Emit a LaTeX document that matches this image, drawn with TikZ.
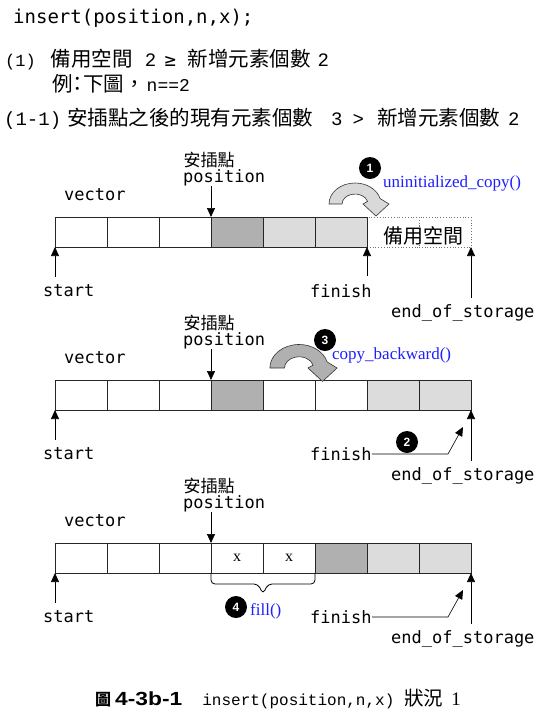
\documentclass[tikz,border=0pt]{standalone}
\usepackage{fontspec}
\setmainfont{Liberation Serif}
\setmonofont{DejaVu Sans Mono}
\newfontfamily\cjk{Noto Sans CJK TC}
\newfontfamily\cour{Liberation Mono}
\newfontfamily\numfont{Liberation Sans}
\newfontfamily\capsans[FakeStretch=1.2]{Liberation Sans}
\usetikzlibrary{arrows.meta,positioning}

\newcommand{\zhtxt}[1]{{\cjk\fontsize{20.5}{20.5}\selectfont #1}}

\definecolor{darkcell}{HTML}{B0B0B0}
\definecolor{lightcell}{HTML}{DCDCDC}
\definecolor{fnblue}{HTML}{1E1EFF}

\tikzset{
  cell/.style={draw=black!85, line width=0.8pt, minimum width=52pt, minimum height=30pt, inner sep=0pt, outer sep=0pt},
  spare/.style={cell, draw=black!55, dotted, line width=0.6pt},
  ptr/.style={draw=black, line width=0.7pt, -{Triangle[length=9pt,width=8pt]}},
  lbl/.style={anchor=west, inner sep=0pt, font=\ttfamily\fontsize{17}{17}\selectfont},
  cjklbl/.style={inner sep=0pt, font=\cjk\fontsize{17}{17}\selectfont},
  num/.style={circle, fill=black, text=white, minimum size=22pt, inner sep=0pt, font=\numfont\bfseries\fontsize{12}{12}\selectfont},
  fn/.style={anchor=west, inner sep=0pt, text=fnblue, font=\fontsize{17}{17}\selectfont},
  bendarrow/.style={draw=black!80, line width=0.6pt}
}

\begin{document}
\begin{tikzpicture}[x=1pt, y=-1pt]

  \useasboundingbox (0,0) rectangle (555,724);

  % heading lines
  \node[anchor=west, inner sep=0pt, font=\ttfamily\fontsize{19}{19}\selectfont] (call) at (13,18) {insert(position,n,x);};
  \node[anchor=base west, inner sep=0pt, font=\cour\fontsize{19}{19}\selectfont] (cond) at (5,66)
    {{\fontsize{17}{17}\selectfont (1)}\hspace{15pt}\zhtxt{備用空間}\hspace{12pt}2\hspace{8.5pt}{\ttfamily ≥}\hspace{11.5pt}\zhtxt{新增元素個數}\hspace{7pt}2};
  \node[anchor=base west, inner sep=0pt, font=\cour\fontsize{18}{18}\selectfont] (examp) at (52,91)
    {\zhtxt{例}\hspace{-5pt}\zhtxt{：}\hspace{-5pt}\zhtxt{下圖，}\hspace{2pt}n==2};
  \node[anchor=base west, inner sep=0pt, font=\cour\fontsize{19}{19}\selectfont] (case) at (4,125)
    {(1-1)\hspace{6pt}\zhtxt{安插點之後的現有元素個數}\hspace{18pt}3\hspace{10pt}>\hspace{13pt}\zhtxt{新增元素個數}\hspace{8pt}2};

  % row A: spare room still empty
  \foreach \i in {7,8}
    \node[spare] (A\i) at ({81+52*(\i-1)},232) {};
  \foreach \i/\c in {1/white,2/white,3/white,4/darkcell,5/lightcell,6/lightcell}
    \node[cell, fill=\c] (A\i) at ({81+52*(\i-1)},232) {};
  \node[inner sep=0pt, xshift=4pt, yshift=-4pt, font=\cjk\fontsize{20}{20}\selectfont] (spareTxt) at (A7.east) {備用空間};

  % row B: after the move
  \foreach \i/\c in {1/white,2/white,3/white,4/darkcell,5/white,6/white,7/lightcell,8/lightcell}
    \node[cell, fill=\c] (B\i) at ({81+52*(\i-1)},395) {};

  % row C: after the fill
  \foreach \i/\c/\v in {1/white/,2/white/,3/white/,4/white/x,5/white/x,6/darkcell/,7/lightcell/,8/lightcell/}
    \node[cell, fill=\c, font=\fontsize{16}{16}\selectfont] (C\i) at ({81+52*(\i-1)},558) {\v};

  % labels and pointers of each row
  \foreach \rw/\ry in {A/217,B/380,C/543} {
    \node[cjklbl] (ins\rw) at (209,\ry-57) {安插點};
    \node[lbl] (pos\rw) at (183,\ry-39) {position};
    \node[lbl] (vec\rw) at (64,\ry-22) {vector};
    \node[lbl] (st\rw) at (43,\ry+74) {start};
    \node[lbl] (fin\rw) at (310,\ry+74) {finish};
    \node[lbl] (eos\rw) at (391,\ry+96) {end\_of\_storage};
    \draw[ptr] (\rw4.north west |- pos\rw.south) -- (\rw4.north west);
    \draw[ptr, shorten <=8pt] (\rw1.south west |- st\rw.north) -- (\rw1.south west);
    \draw[ptr, shorten <=6.5pt] (\rw8.south east |- eos\rw.north) -- (\rw8.south east);
  }
  \draw[ptr, shorten <=8pt] (A6.south east |- finA.north) -- (A6.south east);

  % finish moves on
  \coordinate (bendB) at (448,454);
  \coordinate (tipB) at (463,427);
  \coordinate (bendC) at (448,617);
  \coordinate (tipC) at (463,590);
  \draw[ptr, line width=0.6pt] (finB.east) -- (bendB) -- (tipB);
  \draw[ptr, line width=0.6pt] (finC.east) -- (bendC) -- (tipC);

  % bent block arrows
  \foreach \cx/\cy/\s/\g in {355/204/1/gray!30, 299/368/1.12/gray!62} {
    \filldraw[bendarrow, fill=\g, shift={(\cx,\cy)}, scale=\s]
      (-26,0) arc[start angle=180, end angle=345, x radius=26, y radius=21]
      -- (34,0) -- (21,12) -- (8,0) -- (12.6,-2.6)
      arc[start angle=345, end angle=180, x radius=13, y radius=10] -- cycle;
  }

  % brace under the new elements
  \draw[line width=0.8pt, rounded corners=4pt] (C4.south west) -- ++(0,11) -- ++(47,0) -- ++(5,10) -- ++(5,-10) -- ++(47,0) -- (C5.south east);

  % steps
  \node[num] (n1) at (370,168) {1};
  \node[fn] (ucopy) at (383,183) {uninitialized\_copy()};
  \node[num] (n2) at (407,442) {2};
  \node[num] (n3) at (325,340) {3};
  \node[fn] (cpback) at (332,355) {copy\_backward()};
  \node[num] (n4) at (236,607) {4};
  \node[fn] (fillfn) at (250,611) {fill()};

  % caption
  \node[anchor=base west, inner sep=0pt] (cap) at (95,705)
    {{\cjk\bfseries\fontsize{16}{16}\selectfont 圖}\hspace{4pt}{\capsans\bfseries\fontsize{19}{19}\selectfont 4-3b-1}\hspace{20pt}{\cour\fontsize{16}{16}\selectfont insert(position,n,x)}\hspace{10pt}{\cjk\fontsize{19.5}{19.5}\selectfont 狀況}\hspace{8pt}{\fontsize{19}{19}\selectfont 1}};

\end{tikzpicture}
\end{document}
